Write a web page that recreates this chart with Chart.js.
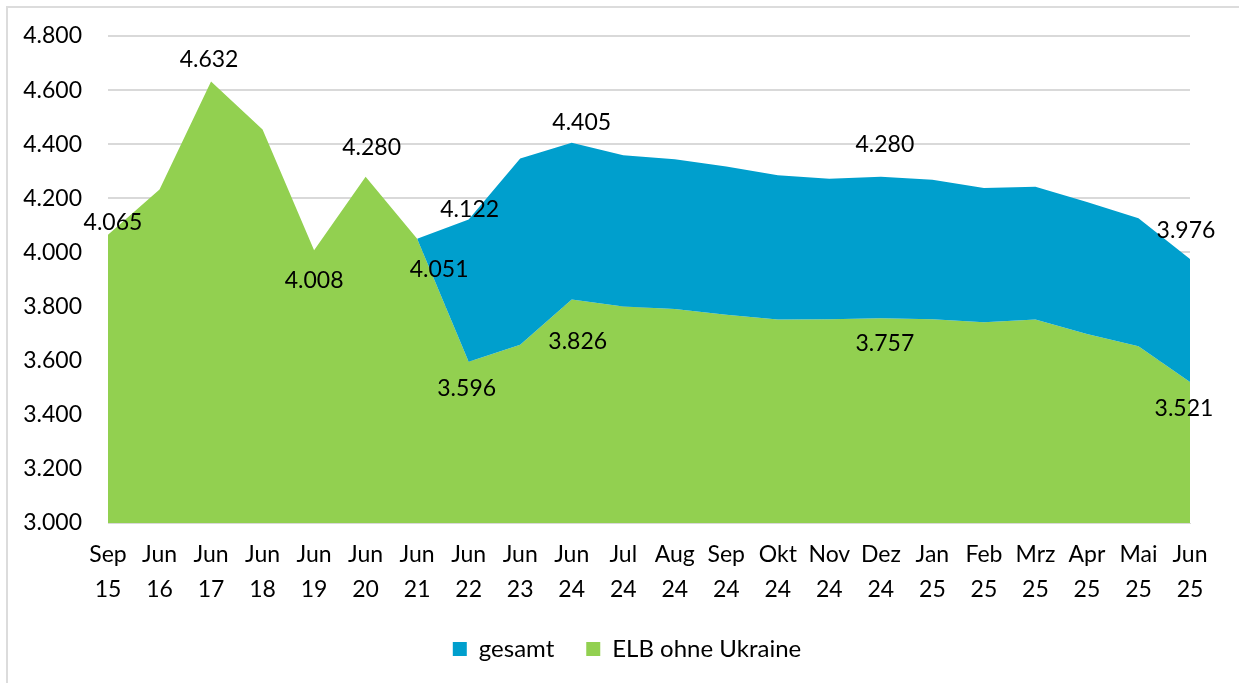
<!DOCTYPE html>
<html>
<head>
<meta charset="utf-8">
<script src="https://cdn.jsdelivr.net/npm/chart.js@4/dist/chart.umd.min.js"></script>
<style>
  html, body { margin: 0; padding: 0; background: #fff; overflow: hidden; }
  #frame { position: absolute; left: 6px; top: 6px; width: 1300px; height: 800px;
           border-left: 2px solid #dcdcdc; border-top: 2px solid #dcdcdc; }
  #wrap { position: absolute; left: 0; top: 0; width: 1239px; height: 683px; }
</style>
</head>
<body>
<div id="frame"></div>
<div id="wrap"><canvas id="chart" width="1239" height="683"></canvas></div>
<script>
const categories = [
  ['Sep', '15'], ['Jun', '16'], ['Jun', '17'], ['Jun', '18'], ['Jun', '19'], ['Jun', '20'],
  ['Jun', '21'], ['Jun', '22'], ['Jun', '23'], ['Jun', '24'], ['Jul', '24'], ['Aug', '24'],
  ['Sep', '24'], ['Okt', '24'], ['Nov', '24'], ['Dez', '24'], ['Jan', '25'], ['Feb', '25'],
  ['Mrz', '25'], ['Apr', '25'], ['Mai', '25'], ['Jun', '25']
];

// gesamt beginnt erst ab Jun 21
const gesamt = [
  null, null, null, null, null, null,
  4051, 4122, 4347, 4405, 4359, 4344,
  4318, 4285, 4272, 4280, 4269, 4238,
  4243, 4186, 4126, 3976
];

const elbOhneUkraine = [
  4065, 4233, 4632, 4454, 4008, 4280,
  4051, 3596, 3659, 3826, 3800, 3791,
  3770, 3752, 3753, 3757, 3753, 3742,
  3752, 3699, 3653, 3521
];

const yTicks = [3000, 3200, 3400, 3600, 3800, 4000, 4200, 4400, 4600, 4800];

// welche Punkte beschriftet werden (Index -> Versatz dx, dy in px)
const labelsGesamt = { 7: [1, -10], 9: [10, -20], 15: [4, -32], 21: [-4, -28] };
const labelsElb = { 0: [5, -12], 2: [-2, -22], 4: [0, 30], 5: [6, -29], 6: [22, 31],
                    7: [-2, 27], 9: [6, 42], 15: [4, 25], 21: [-6, 27] };

const FONT = 'Lato, "Noto Sans", sans-serif';
const fmt = v => v.toLocaleString('de-DE');

const pointLabels = {
  id: 'pointLabels',
  afterDatasetsDraw(chart) {
    const ctx = chart.ctx;
    ctx.save();
    ctx.font = '23px ' + FONT;
    ctx.fillStyle = '#000';
    ctx.textAlign = 'center';
    ctx.textBaseline = 'middle';
    [labelsGesamt, labelsElb].forEach((sel, di) => {
      const meta = chart.getDatasetMeta(di);
      const data = chart.data.datasets[di].data;
      Object.keys(sel).forEach(k => {
        const i = +k;
        const pt = meta.data[i];
        if (!pt || data[i] == null) return;
        const [dx, dy] = sel[k];
        ctx.fillText(fmt(data[i]), pt.x + dx, pt.y + dy);
      });
    });
    ctx.restore();
  }
};

// Legende etwas nach rechts, wie im Original
const shiftLegend = {
  id: 'shiftLegend',
  afterLayout(chart) {
    if (chart.legend) chart.legend.left += 64;
  }
};

new Chart(document.getElementById('chart'), {
  type: 'line',
  data: {
    labels: categories,
    datasets: [
      {
        label: 'gesamt',
        data: gesamt,
        borderColor: '#009fcd',
        backgroundColor: '#009fcd',
        borderWidth: 0,
        pointRadius: 0,
        fill: '+1',
        tension: 0
      },
      {
        label: 'ELB ohne Ukraine',
        data: elbOhneUkraine,
        borderColor: '#92d050',
        backgroundColor: '#92d050',
        borderWidth: 0,
        pointRadius: 0,
        fill: 'start',
        tension: 0
      }
    ]
  },
  options: {
    responsive: false,
    animation: false,
    layout: { padding: { top: 36, right: 49, left: 0, bottom: 12 } },
    plugins: {
      legend: {
        position: 'bottom',
        labels: {
          font: { family: FONT, size: 24 },
          color: '#000',
          boxWidth: 14,
          boxHeight: 14,
          padding: 32,
          useBorderRadius: false
        }
      },
      tooltip: { enabled: false }
    },
    scales: {
      x: {
        offset: false,
        grid: { display: false, drawTicks: false },
        border: { display: true, color: '#d9d9d9', width: 1 },
        ticks: {
          font: { family: FONT, size: 23, lineHeight: 1.52 },
          color: '#000',
          maxRotation: 0,
          autoSkip: false,
          padding: 14
        },
        afterFit(scale) { scale.height = 82; }
      },
      y: {
        min: 3000,
        max: 4800,
        afterBuildTicks(scale) { scale.ticks = yTicks.map(v => ({ value: v })); },
        grid: { color: '#d9d9d9', lineWidth: 2, drawTicks: true, tickLength: 18, tickColor: 'rgba(0,0,0,0)' },
        border: { display: false },
        ticks: {
          font: { family: FONT, size: 23 },
          color: '#000',
          padding: 8,
          callback: v => fmt(v)
        },
        afterFit(scale) { scale.width = 108; }
      }
    }
  },
  plugins: [pointLabels, shiftLegend]
});
</script>
</body>
</html>
